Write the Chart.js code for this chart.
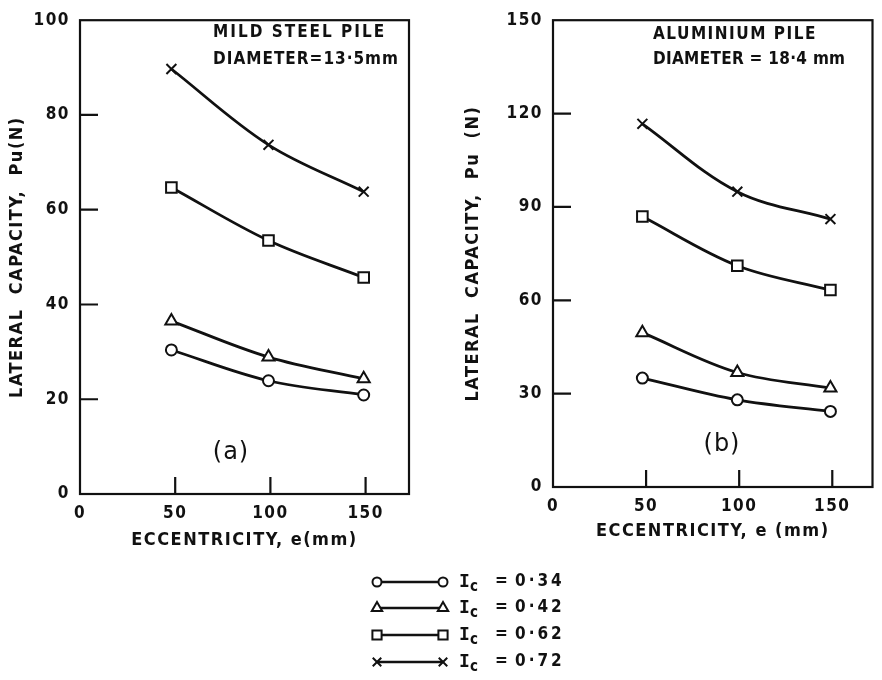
<!DOCTYPE html>
<html>
<head>
<meta charset="utf-8">
<script src="https://cdn.jsdelivr.net/npm/chart.js@4.4.1/dist/chart.umd.min.js"></script>
<style>
  html, body { margin: 0; padding: 0; background: #fff; }
  #wrap { position: relative; width: 882px; height: 680px; }
  canvas { position: absolute; }
</style>
</head>
<body>
<div id="wrap">
  <canvas id="chartA" width="441" height="560" style="left:0;top:0"></canvas>
  <canvas id="chartB" width="441" height="560" style="left:441px;top:0"></canvas>
  <canvas id="legendBox" width="220" height="120" style="left:360px;top:560px"></canvas>
</div>
<script>
// eccentricity e (mm) where the points were plotted
const ecc = [48, 99, 149];
const xTicks = [0, 50, 100, 150];

// relative density values, one series each
const icLabels = ['0·34', '0·42', '0·62', '0·72'];
const markers = ['circle', 'triangle', 'rect', 'crossRot'];

// (a) mild steel pile, d = 13.5 mm -> Pu (N)
const steelIc34 = [30.4, 23.9, 20.9];
const steelIc42 = [36.5, 28.9, 24.3];
const steelIc62 = [64.7, 53.5, 45.7];
const steelIc72 = [89.7, 73.7, 63.8];
const steelTicks = [0, 20, 40, 60, 80, 100];

// (b) aluminium pile, d = 18.4 mm -> Pu (N)
const aluIc34 = [35.0, 28.0, 24.3];
const aluIc42 = [49.6, 36.8, 31.8];
const aluIc62 = [86.9, 71.1, 63.3];
const aluIc72 = [116.7, 94.9, 86.1];
const aluTicks = [0, 30, 60, 90, 120, 150];

const INK = '#111';
const FONT = "'DejaVu Sans Condensed', 'DejaVu Sans', sans-serif";
const radii = { circle: 5.5, triangle: 7, rect: 7.5, crossRot: 7 };

function makeSets(series) {
  return series.map((vals, i) => ({
    label: 'Ic = ' + icLabels[i],
    data: vals.map((v, j) => ({ x: ecc[j], y: v })),
    borderColor: INK,
    borderWidth: 2.8,
    tension: 0.35,
    pointStyle: markers[i],
    pointRadius: radii[markers[i]],
    pointBorderWidth: 2,
    pointBorderColor: INK,
    pointBackgroundColor: '#fff',
    fill: false
  }));
}

// frame, inward tick marks and the panel notes
const framePlugin = {
  id: 'frame',
  beforeUpdate(chart) { chart.ctx.letterSpacing = '1.5px'; },
  beforeDraw(chart) { chart.ctx.letterSpacing = '1.5px'; },
  afterDatasetsDraw(chart, args, opts) {
    const { ctx, chartArea: a, scales: { x, y } } = chart;
    ctx.save();
    ctx.strokeStyle = INK;
    ctx.lineWidth = 2.2;
    ctx.strokeRect(a.left, a.top, a.right - a.left, a.bottom - a.top);
    ctx.beginPath();
    opts.yMarks.forEach(v => {
      const py = y.getPixelForValue(v);
      ctx.moveTo(a.left, py);
      ctx.lineTo(a.left + 18, py);
    });
    opts.xMarks.forEach(v => {
      const px = x.getPixelForValue(v);
      ctx.moveTo(px, a.bottom);
      ctx.lineTo(px, a.bottom - 17);
    });
    ctx.stroke();
    ctx.fillStyle = INK;
    ctx.textBaseline = 'middle';
    opts.notes.forEach(n => {
      ctx.font = n.font;
      ctx.letterSpacing = n.spacing;
      ctx.textAlign = n.align;
      ctx.fillText(n.text, n.x, n.y);
    });
    ctx.restore();
  }
};

function makeChart(id, series, yTicks, yMax, xMax, yTitle, xTitle, pad, yWidth, xHeight, yTitlePad, xTitlePad, notes) {
  return new Chart(document.getElementById(id), {
    type: 'line',
    data: { datasets: makeSets(series) },
    options: {
      responsive: false,
      animation: false,
      devicePixelRatio: 1,
      layout: { padding: pad },
      plugins: {
        legend: { display: false },
        tooltip: { enabled: false },
        frame: { yMarks: yTicks.slice(1, -1), xMarks: xTicks.slice(1), notes: notes }
      },
      scales: {
        x: {
          type: 'linear', min: 0, max: xMax,
          afterBuildTicks: s => { s.ticks = xTicks.map(v => ({ value: v })); },
          afterFit: s => { s.height = xHeight; },
          grid: { display: false, drawTicks: false },
          border: { display: false },
          ticks: { padding: 9, color: INK, font: { family: FONT, size: 17, weight: 'bold' } },
          title: {
            display: true, text: xTitle,
            color: INK, font: { family: FONT, size: 18, weight: 'bold' },
            padding: { top: 0, bottom: xTitlePad }
          }
        },
        y: {
          type: 'linear', min: 0, max: yMax,
          afterBuildTicks: s => { s.ticks = yTicks.map(v => ({ value: v })); },
          afterFit: s => { s.width = yWidth; },
          grid: { display: false, drawTicks: false },
          border: { display: false },
          ticks: { padding: 10, color: INK, font: { family: FONT, size: 17, weight: 'bold' } },
          title: {
            display: true, text: yTitle, color: INK,
            font: { family: FONT, size: 18, weight: 'bold' },
            padding: { top: yTitlePad, bottom: 0 }
          }
        }
      }
    },
    plugins: [framePlugin]
  });
}

const noteFont = "bold 17px " + FONT;
const tagFont = "24px 'DejaVu Sans', sans-serif";

makeChart('chartA', [steelIc34, steelIc42, steelIc62, steelIc72], steelTicks, 100, 172.8,
  'LATERAL  CAPACITY,  Pu(N)', 'ECCENTRICITY, e(mm)',
  { top: 16, right: 32, left: 0, bottom: 0 }, 80, 66, 7, 9, [
    { text: 'MILD STEEL PILE', x: 213, y: 33, font: noteFont, spacing: '2px', align: 'left' },
    { text: 'DIAMETER=13·5mm', x: 213, y: 60, font: noteFont, spacing: '1px', align: 'left' },
    { text: '(a)', x: 231, y: 453, font: tagFont, spacing: '1px', align: 'center' }
  ]);

makeChart('chartB', [aluIc34, aluIc42, aluIc62, aluIc72], aluTicks, 150, 171.6,
  'LATERAL  CAPACITY,  Pu  (N)', 'ECCENTRICITY, e (mm)',
  { top: 13, right: 6, left: 0, bottom: 0 }, 112, 73, 22, 18, [
    { text: 'ALUMINIUM PILE', x: 212, y: 35, font: noteFont, spacing: '1.5px', align: 'left' },
    { text: 'DIAMETER = 18·4 mm', x: 212, y: 60, font: noteFont, spacing: '0.3px', align: 'left' },
    { text: '(b)', x: 281, y: 445, font: tagFont, spacing: '1px', align: 'center' }
  ]);

// shared legend below both panels
(function drawLegend() {
  const ctx = document.getElementById('legendBox').getContext('2d');
  const rowY = [22, 48, 75, 102];
  ctx.strokeStyle = INK;
  ctx.textBaseline = 'middle';
  icLabels.forEach((lab, i) => {
    const y = rowY[i];
    ctx.lineWidth = 2.6;
    ctx.beginPath();
    ctx.moveTo(17, y);
    ctx.lineTo(83, y);
    ctx.stroke();
    [17, 83].forEach(px => {
      ctx.lineWidth = 2;
      ctx.fillStyle = '#fff';
      Chart.helpers.drawPoint(ctx, { pointStyle: markers[i], radius: radii[markers[i]] - 1, rotation: 0, borderWidth: 2 }, px, y);
    });
    ctx.fillStyle = INK;
    ctx.letterSpacing = '0px';
    ctx.font = "bold 18px 'DejaVu Sans Mono', monospace";
    ctx.fillText('I', 99, y);
    ctx.font = "bold 15px " + FONT;
    ctx.fillText('c', 110, y + 5);
    ctx.letterSpacing = '3px';
    ctx.font = "bold 17px " + FONT;
    ctx.fillText('=', 135, y);
    ctx.fillText(lab, 155, y);
  });
})();
</script>
</body>
</html>
